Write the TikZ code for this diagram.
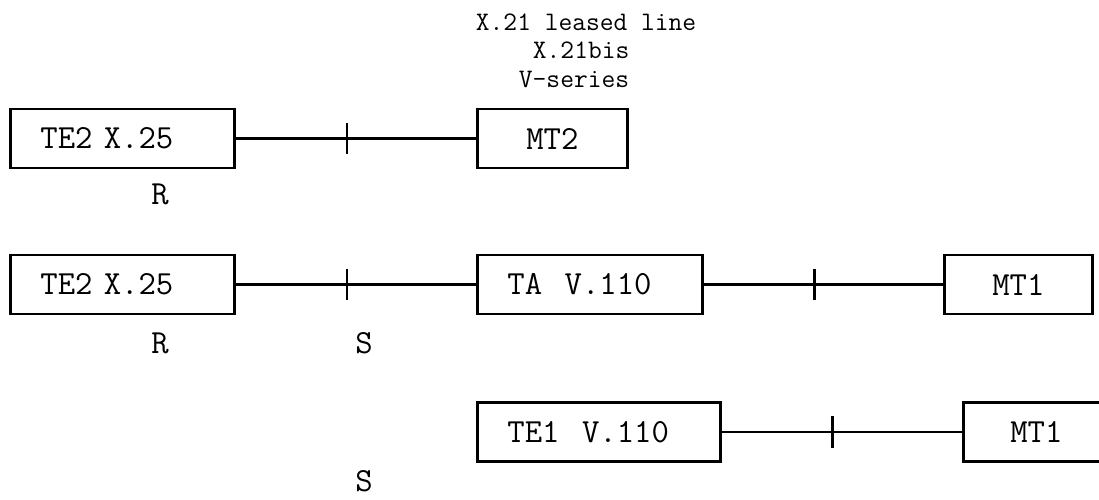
\documentclass[tikz,border=0pt]{standalone}
\usepackage{tikz}
\usepackage{xcolor}

\tikzset{
  unit/.style={draw, line width=2pt, anchor=west, minimum height=1.475cm,
    inner xsep=0.75cm, align=left, font=\ttfamily\fontsize{24}{28}\selectfont},
  mt/.style={draw, line width=2pt, anchor=west, minimum height=1.475cm,
    align=center, font=\ttfamily\fontsize{24}{28}\selectfont},
  wire/.style={line width=2pt},
  refpt/.style={font=\ttfamily\fontsize{24}{28}\selectfont},
  iface/.style={anchor=base west, font=\ttfamily\fontsize{19}{22}\selectfont},
}

\begin{document}
\begin{tikzpicture}[x=0.025cm, y=-0.025cm]
	\useasboundingbox (0,0) rectangle (1099,500);

	% interfaces at the modem
	\node[iface] (lbl1) at (471,30) {X.21 leased line};
	\node[iface] (lbl2) at (528,58.5) {X.21bis};
	\node[iface] (lbl3) at (514,87) {V-series};

	% first row
	\node[unit, text width=4.1cm] (te2a) at (9,138.5) {TE2 X.25};
	\node[mt, minimum width=3.75cm] (mt2) at (476,138.5) {MT2};
	\draw[wire] (te2a) -- (mt2) coordinate[pos=0.463] (s1);
	\node[refpt] (r1) at (160,194) {R};

	% second row
	\node[unit, text width=4.1cm] (te2b) at (9,284.5) {TE2 X.25};
	\node[unit, text width=4.125cm] (ta) at (476,284.5) {TA\ \ V.110};
	\node[mt, minimum width=3.7cm] (mt1a) at (943,284.5) {MT1};
	\draw[wire] (te2b) -- (ta) coordinate[pos=0.463] (s2);
	\draw[wire] (ta) -- (mt1a) coordinate[pos=0.463] (s3);
	\node[refpt] (r2) at (160,343) {R};
	\node[refpt] (sa) at (364,343) {S};

	% third row
	\node[unit, text width=4.575cm] (te1) at (476,432) {TE1\ \ V.110};
	\node[mt, minimum width=3.65cm] (mt1b) at (962,432) {MT1};
	\draw[wire] (te1) -- (mt1b) coordinate[pos=0.46] (s4);
	\node[refpt] (sb) at (364,481) {S};

	\foreach \t in {s1,s2,s3,s4}
		\draw[wire] ([yshift=0.39cm]\t) -- ([yshift=-0.39cm]\t);
\end{tikzpicture}
\end{document}
